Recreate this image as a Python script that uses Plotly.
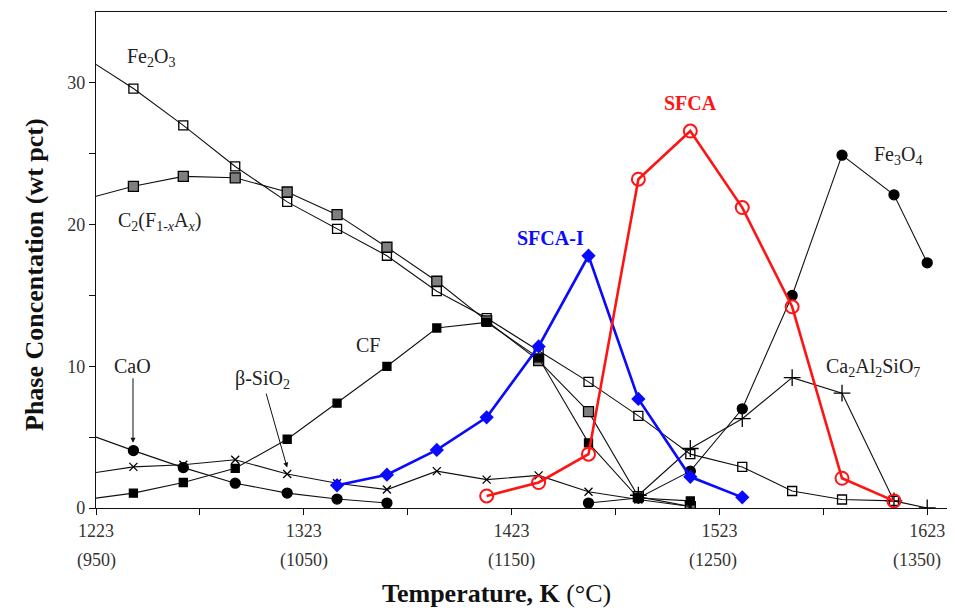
import plotly.graph_objects as go

# ---------------- data ----------------
fe2o3_T = [1223, 1241, 1265, 1290, 1315, 1339, 1363, 1387, 1411, 1436, 1460, 1484, 1509, 1534, 1558, 1582, 1607]
fe2o3 = [31.3, 29.6, 27.0, 24.1, 21.6, 19.7, 17.8, 15.3, 13.4, 11.1, 8.9, 6.5, 3.8, 2.9, 1.2, 0.6, 0.5]

c2f_T = [1223, 1241, 1265, 1290, 1315, 1339, 1363, 1387, 1411, 1436, 1460, 1484, 1509]
c2f = [22.0, 22.7, 23.4, 23.3, 22.3, 20.7, 18.4, 16.0, 13.2, 10.4, 6.8, 0.8, 0.1]

cf_T = [1223, 1241, 1265, 1290, 1315, 1339, 1363, 1387, 1411, 1436, 1460, 1484, 1509]
cf = [0.7, 1.05, 1.8, 2.8, 4.85, 7.4, 10.0, 12.7, 13.1, 10.6, 4.6, 0.7, 0.5]

cao_T = [1223, 1241, 1265, 1290, 1315, 1339, 1363]
cao = [5.0, 4.05, 2.85, 1.75, 1.05, 0.63, 0.35]

sio2_T = [1223, 1241, 1265, 1290, 1315, 1339, 1363, 1387, 1411, 1436, 1460, 1484, 1509]
sio2 = [2.5, 2.9, 3.05, 3.4, 2.4, 1.75, 1.3, 2.6, 2.0, 2.3, 1.15, 0.6, 0.1]

fe3o4_T = [1460, 1484, 1509, 1534, 1558, 1582, 1607, 1623]
fe3o4 = [0.35, 0.7, 2.6, 7.0, 15.0, 24.9, 22.1, 17.3]

cas_T = [1484, 1509, 1534, 1558, 1582, 1607, 1623]
cas = [0.9, 4.2, 6.3, 9.2, 8.1, 0.5, 0.0]

sfcai_T = [1339, 1363, 1387, 1411, 1436, 1460, 1484, 1509, 1534]
sfcai = [1.6, 2.35, 4.1, 6.4, 11.4, 17.8, 7.7, 2.2, 0.75]

sfca_T = [1411, 1436, 1460, 1484, 1509, 1534, 1558, 1582, 1607]
sfca = [0.85, 1.8, 3.8, 23.2, 26.6, 21.2, 14.2, 2.1, 0.5]

x_ticks_K = [1223, 1273, 1323, 1373, 1423, 1473, 1523, 1573, 1623]
x_labels_K = ["1223", "", "1323", "", "1423", "", "1523", "", "1623"]
x_labels_C = ["(950)", "(1050)", "(1150)", "(1250)", "(1350)"]
x_labels_C_pos = [1223, 1323, 1423, 1523, 1623]
x_labels_C_nudge = [0, 0, 0, -6, -10]
y_ticks = [0, 5, 10, 15, 20, 25, 30]
y_labels = ["0", "", "10", "", "20", "", "30"]

FONT = "Liberation Serif, Times New Roman, serif"
BLK = "#111111"
TXT = "#222"

fig = go.Figure()


def sizes(n, s, first_hidden):
    return [0 if (first_hidden and i == 0) else s for i in range(n)]


def black_series(T, v, symbol, size, fill, first_hidden=True, lw=1.1):
    fig.add_trace(go.Scatter(
        x=T, y=v, mode="lines+markers",
        line=dict(color=BLK, width=lw),
        marker=dict(symbol=symbol, size=sizes(len(T), size, first_hidden),
                    color=fill, opacity=1, line=dict(color="#000000", width=1.3)),
        showlegend=False, hoverinfo="x+y"))


black_series(fe2o3_T, fe2o3, "square-open", 9, "#000000")
black_series(c2f_T, c2f, "square", 10, "#7f7f7f")
black_series(cf_T, cf, "square", 8, "#000000")
black_series(cao_T, cao, "circle", 10, "#000000")
black_series(sio2_T, sio2, "x-thin-open", 8, "#000000")
black_series(fe3o4_T, fe3o4, "circle", 10, "#000000", first_hidden=False)
black_series(cas_T, cas, "cross-thin-open", 12, "#000000", first_hidden=False)

fig.add_trace(go.Scatter(
    x=sfcai_T, y=sfcai, mode="lines+markers",
    line=dict(color="#0a0aff", width=2.6),
    marker=dict(symbol="diamond", size=11, color="#0a0aff"),
    showlegend=False))
fig.add_trace(go.Scatter(
    x=sfca_T, y=sfca, mode="lines+markers",
    line=dict(color="#ff1414", width=2.6),
    marker=dict(symbol="circle-open", size=13, color="#ff1414", line=dict(width=2)),
    showlegend=False))

ann = []


def label(x, y, text, size=20, color=TXT, **kw):
    d = dict(x=x, y=y, xref="x", yref="y", text=text, showarrow=False,
             font=dict(family=FONT, size=size, color=color))
    d.update(kw)
    ann.append(d)


label(1249.5, 31.8, "Fe<sub>2</sub>O<sub>3</sub>")
label(1253.5, 20.2, "C<sub>2</sub>(F<sub>1-<i>x</i></sub>A<sub><i>x</i></sub>)")
label(1354, 11.5, "CF")
label(1441.5, 19.05, "<b>SFCA-I</b>", color="#0a0aff")
label(1509, 28.6, "<b>SFCA</b>", color="#ff1414")
label(1609, 24.9, "Fe<sub>3</sub>O<sub>4</sub>")
label(1597, 9.9, "Ca<sub>2</sub>Al<sub>2</sub>SiO<sub>7</sub>")

# arrow labels
ann.append(dict(x=1240.8, y=4.6, xref="x", yref="y", text="CaO", showarrow=True,
                ax=0, ay=-77, arrowhead=2, arrowsize=1, arrowwidth=1, arrowcolor=BLK,
                font=dict(family=FONT, size=20, color=TXT)))
ann.append(dict(x=1315, y=2.85, xref="x", yref="y", text="β-SiO<sub>2</sub>", showarrow=True,
                ax=-25, ay=-88, arrowhead=2, arrowsize=1, arrowwidth=1, arrowcolor=BLK,
                font=dict(family=FONT, size=20, color=TXT)))

# second line of x tick labels (deg C)
for xp, t, nud in zip(x_labels_C_pos, x_labels_C, x_labels_C_nudge):
    ann.append(dict(x=xp, y=0, xref="x", yref="paper", text=t, showarrow=False,
                    yanchor="middle", yshift=-52, xshift=nud,
                    font=dict(family=FONT, size=18, color="#333")))

# axis titles
ann.append(dict(x=0.5, y=0, xref="paper", yref="paper", xshift=-26, yshift=-85,
                text="<b>Temperature, K</b> (°C)", showarrow=False, yanchor="middle",
                font=dict(family=FONT, size=26, color="#111")))
ann.append(dict(x=0, y=0.5, xref="paper", yref="paper", xshift=-62, yshift=-15,
                text="<b>Phase Concentation (wt pct)</b>", showarrow=False, textangle=-90,
                xanchor="center", yanchor="middle",
                font=dict(family=FONT, size=26, color="#111")))

# the page body has an 8px margin, so the figure is sized to fit the 955x610 window
fig.update_layout(
    width=947, height=602,
    margin=dict(l=88, r=7, t=4, b=102),
    plot_bgcolor="white", paper_bgcolor="white",
    annotations=ann,
    xaxis=dict(range=[1223, 1633], tickmode="array", tickvals=x_ticks_K, ticktext=x_labels_K,
               ticks="outside", ticklen=6, tickcolor=BLK, showline=True, linecolor=BLK,
               linewidth=1.3, mirror=True, showgrid=False, zeroline=False,
               tickfont=dict(family=FONT, size=18, color="#333")),
    yaxis=dict(range=[0, 35], tickmode="array", tickvals=y_ticks, ticktext=y_labels,
               ticks="outside", ticklen=6, tickcolor=BLK, showline=True, linecolor=BLK,
               linewidth=1.3, mirror=True, showgrid=False, zeroline=False,
               tickfont=dict(family=FONT, size=18, color="#333")),
)

fig.write_html("out.html")
